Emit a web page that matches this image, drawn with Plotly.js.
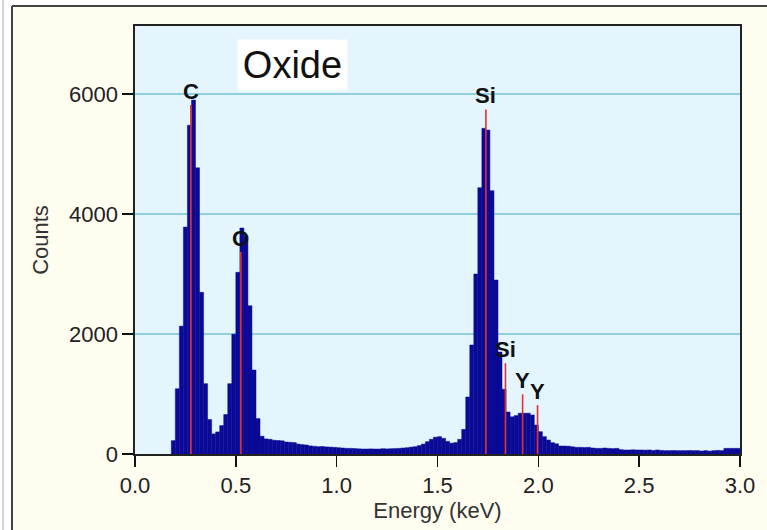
<!DOCTYPE html>
<html>
<head>
<meta charset="utf-8">
<script src="https://cdn.plot.ly/plotly-3.0.1.min.js"></script>
<style>
  html, body { margin: 0; padding: 0; background: #ffffff; }
  #chart { width: 767px; height: 530px; }
</style>
</head>
<body>
<div id="chart"></div>
<script>
// Spectrum: counts per 0.02 keV channel, first channel starts at 0.18 keV
const binStart = 0.18;
const binWidth = 0.02;
const counts = [
  223, 1088, 2131, 3783, 5480, 5900, 4770, 2695, 1172, 575,
  335, 368, 474, 658, 1172, 1997, 3029, 3766, 3632, 2471,
  1400, 591, 296, 251, 245, 229, 225, 220, 200, 195,
  190, 165, 156, 150, 135, 128, 122, 125, 118, 115,
  111, 105, 100, 94, 94, 90, 86, 83, 83, 85,
  83, 83, 88, 85, 88, 90, 94, 100, 105, 115,
  122, 140, 165, 205, 245, 280, 289, 261, 210, 180,
  190, 245, 410, 950, 1817, 3000, 4440, 5430, 5400, 4390,
  2900, 1700, 1080, 700, 620, 640, 680, 680, 680, 650,
  483, 372, 289, 233, 189, 170, 133, 133, 130, 120,
  111, 111, 108, 111, 100, 94, 94, 100, 94, 90,
  94, 72, 67, 67, 70, 67, 67, 65, 67, 60,
  67, 60, 56, 56, 58, 56, 56, 56, 58, 56,
  56, 50, 56, 48, 56, 60, 56, 94, 94, 94,
  94
];

// Identified peak lines
const peakLabels = ["C", "O", "Si", "Si", "Y", "Y"];
const peakEnergies = [0.277, 0.525, 1.740, 1.837, 1.922, 1.996];
const peakHeights = [5820, 3370, 5745, 1515, 995, 815];

const xTickVals = [0, 0.5, 1.0, 1.5, 2.0, 2.5, 3.0];
const xTickText = ["0.0", "0.5", "1.0", "1.5", "2.0", "2.5", "3.0"];
const yTickVals = [0, 2000, 4000, 6000];
const yTickText = ["0", "2000", "4000", "6000"];

const plotTitle = "Oxide";
const xTitle = "Energy (keV)";
const yTitle = "Counts";

const FONT = "Liberation Sans, Arial, sans-serif";

// Peak marker lines (vertical segments) built from arrays
const lineX = [], lineY = [];
for (let i = 0; i < peakEnergies.length; i++) {
  lineX.push(peakEnergies[i], peakEnergies[i], null);
  lineY.push(0, peakHeights[i], null);
}

const traces = [
  {
    type: "bar",
    x0: binStart + binWidth / 2,
    dx: binWidth,
    y: counts,
    width: binWidth,
    marker: { color: "#0a0a96", line: { color: "#0a0a96", width: 0.5 } },
    hoverinfo: "x+y",
    showlegend: false
  },
  {
    type: "scatter",
    mode: "lines",
    x: lineX,
    y: lineY,
    line: { color: "#e8302a", width: 1.6 },
    hoverinfo: "skip",
    showlegend: false
  }
];

const annotations = peakLabels.map((t, i) => ({
  x: peakEnergies[i],
  y: peakHeights[i],
  xref: "x",
  yref: "y",
  text: "<b>" + t + "</b>",
  showarrow: false,
  xanchor: "center",
  yanchor: "bottom",
  yshift: -1,
  font: { family: FONT, size: 22, color: "#111111" }
}));

annotations.push({
  xref: "paper", yref: "paper",
  x: 0.2603, y: 0.909,
  xanchor: "center", yanchor: "middle",
  text: plotTitle,
  showarrow: false,
  bgcolor: "#ffffff",
  width: 105, height: 46,
  borderpad: 2,
  font: { family: FONT, size: 38, color: "#111111" }
});

// Paper helpers: plot area spans px 135..740 (x), 26..454 (y)
const px = v => (v - 135) / 605;
const py = v => (454 - v) / 428;

const shapes = [
  { type: "rect", xref: "paper", yref: "paper", x0: px(-5), x1: px(12), y0: py(540), y1: py(-5),
    fillcolor: "#ffffff", line: { width: 0 }, layer: "below" },
  { type: "rect", xref: "paper", yref: "paper", x0: px(-5), x1: px(780), y0: py(6), y1: py(-5),
    fillcolor: "#ffffff", line: { width: 0 }, layer: "below" },
  { type: "line", xref: "paper", yref: "paper", x0: px(3), x1: px(3), y0: py(540), y1: py(-5),
    line: { color: "#c8c8c8", width: 1.5 } },
  { type: "line", xref: "paper", yref: "paper", x0: px(12), x1: px(12), y0: py(540), y1: py(6),
    line: { color: "#444444", width: 2 } },
  { type: "line", xref: "paper", yref: "paper", x0: px(12), x1: px(780), y0: py(6), y1: py(6),
    line: { color: "#444444", width: 2 } }
];

const layout = {
  width: 767,
  height: 530,
  autosize: false,
  margin: { l: 135, r: 27, t: 26, b: 76, pad: 0 },
  paper_bgcolor: "#fffcf0",
  plot_bgcolor: "#e4f5fd",
  bargap: 0,
  showlegend: false,
  font: { family: FONT, size: 22, color: "#222222" },
  xaxis: {
    range: [0, 3],
    tickvals: xTickVals,
    ticktext: xTickText,
    ticks: "outside",
    ticklen: 11,
    tickwidth: 1.5,
    tickcolor: "#111111",
    showgrid: false,
    zeroline: false,
    showline: true,
    mirror: true,
    linecolor: "#222222",
    linewidth: 1.6,
    tickfont: { family: FONT, size: 22, color: "#222222" },
    title: { text: xTitle, font: { family: FONT, size: 22, color: "#333333" }, standoff: 2 }
  },
  yaxis: {
    range: [0, 7135],
    tickvals: yTickVals,
    ticktext: yTickText,
    ticks: "outside",
    ticklen: 11,
    tickwidth: 1.5,
    tickcolor: "#111111",
    showgrid: true,
    gridcolor: "#8fcfe0",
    gridwidth: 1.5,
    zeroline: false,
    showline: true,
    mirror: true,
    linecolor: "#222222",
    linewidth: 1.6,
    tickfont: { family: FONT, size: 22, color: "#222222" },
    title: { text: yTitle, font: { family: FONT, size: 22, color: "#333333" }, standoff: 14 }
  },
  annotations: annotations,
  shapes: shapes
};

Plotly.newPlot("chart", traces, layout, { displayModeBar: false, staticPlot: true });
</script>
</body>
</html>
